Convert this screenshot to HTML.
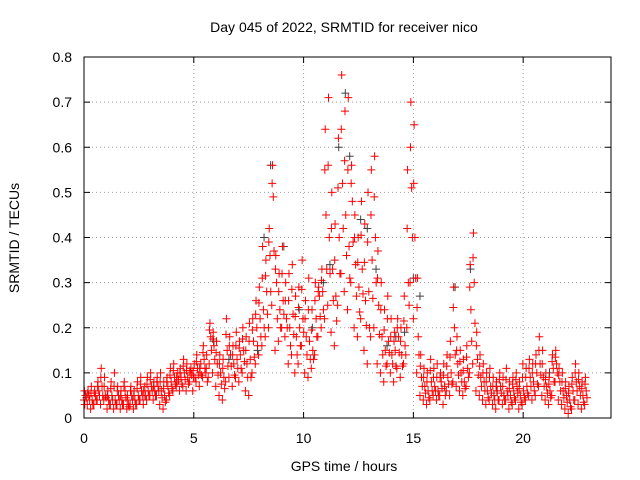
<!DOCTYPE html>
<html><head><meta charset="utf-8"><style>
body{margin:0;background:#fff}
svg{display:block;font-family:"Liberation Sans",sans-serif}
</style></head><body>
<svg id="chart" width="640" height="480" viewBox="0 0 640 480">
<rect width="640" height="480" fill="#fff"/>
<text x="344" y="32" font-size="14" text-anchor="middle">Day 045 of 2022, SRMTID for receiver nico</text>
<text transform="translate(19,238) rotate(-90)" font-size="14" text-anchor="middle">SRMTID / TECUs</text>
<text x="344" y="471" font-size="14" text-anchor="middle">GPS time / hours</text>
<g id="grid"></g><g id="ticks"></g><g id="marks"></g>
<rect x="84" y="57" width="527" height="361" fill="none" stroke="#000" stroke-width="1"/>
</svg>
<script>
const xTicks=[0,5,10,15,20];
const yTicks=[0,0.1,0.2,0.3,0.4,0.5,0.6,0.7,0.8];
const times=[0.00,0.15,0.30,0.45,0.60,0.75,0.90,1.05,1.20,1.35,1.50,1.65,1.80,1.95,2.10,2.25,2.40,2.55,2.70,2.85,3.00,3.15,3.30,3.45,3.60,3.75,3.90,4.05,4.20,4.35,4.50,4.65,4.80,4.95,5.10,5.25,5.40,5.55,5.70,5.85,6.00,6.15,6.30,6.45,6.60,6.75,6.90,7.05,7.20,7.35,7.50,7.65,7.80,7.95,8.10,8.25,8.40,8.55,8.70,8.85,9.00,9.15,9.30,9.45,9.60,9.75,9.90,10.05,10.20,10.35,10.50,10.65,10.80,10.95,11.10,11.25,11.40,11.55,11.70,11.85,12.00,12.15,12.30,12.45,12.60,12.75,12.90,13.05,13.20,13.35,13.50,13.65,13.80,13.95,14.10,14.25,14.40,14.55,14.70,14.85,15.00,15.15,15.30,15.45,15.60,15.75,15.90,16.05,16.20,16.35,16.50,16.65,16.80,16.95,17.10,17.25,17.40,17.55,17.70,17.85,18.00,18.15,18.30,18.45,18.60,18.75,18.90,19.05,19.20,19.35,19.50,19.65,19.80,19.95,20.10,20.25,20.40,20.55,20.70,20.85,21.00,21.15,21.30,21.45,21.60,21.75,21.90,22.05,22.20,22.35,22.50,22.65,22.80];
const valuesLow=[.04,.03,.02,.03,.04,.03,.04,.02,.03,.02,.03,.02,.03,.02,.03,.02,.03,.04,.03,.04,.05,.04,.05,.03,.02,.04,.05,.06,.07,.06,.07,.06,.08,.06,.08,.07,.09,.10,.12,.10,.07,.05,.04,.08,.09,.07,.09,.08,.10,.06,.05,.10,.12,.14,.16,.18,.20,.25,.15,.17,.20,.18,.12,.14,.10,.12,.16,.10,.09,.11,.14,.18,.20,.22,.25,.19,.16,.25,.32,.28,.24,.30,.20,.18,.22,.15,.12,.18,.20,.12,.10,.08,.12,.10,.08,.11,.09,.12,.20,.30,.22,.10,.05,.04,.03,.04,.05,.04,.05,.03,.06,.05,.08,.07,.06,.05,.07,.10,.12,.06,.05,.04,.03,.04,.03,.02,.04,.03,.04,.02,.03,.04,.02,.03,.04,.05,.04,.05,.07,.05,.04,.03,.05,.08,.04,.03,.02,.01,.02,.04,.03,.02,.03];
const valuesMid=[.05,.05,.04,.05,.06,.07,.05,.04,.05,.04,.05,.04,.06,.03,.05,.04,.05,.06,.07,.06,.07,.06,.07,.06,.05,.07,.08,.09,.10,.09,.10,.09,.11,.12,.11,.12,.13,.08,.18,.16,.12,.10,.09,.15,.14,.12,.13,.14,.15,.12,.13,.17,.20,.22,.24,.28,.36,.49,.30,.24,.26,.22,.20,.23,.18,.20,.22,.18,.17,.15,.22,.27,.28,.45,.40,.33,.27,.40,.52,.45,.38,.48,.34,.29,.33,.26,.28,.35,.40,.25,.18,.15,.17,.14,.15,.18,.14,.16,.30,.51,.40,.18,.09,.07,.06,.08,.07,.06,.08,.07,.09,.10,.20,.12,.10,.08,.11,.24,.30,.13,.09,.08,.06,.07,.05,.06,.07,.05,.06,.05,.06,.07,.05,.06,.07,.09,.08,.10,.12,.09,.07,.06,.11,.12,.08,.06,.05,.04,.06,.08,.07,.05,.06];
const valuesHigh=[.03,.06,.07,.06,.08,.11,.09,.06,.08,.10,.07,.06,.08,.05,.07,.06,.08,.09,.05,.09,.10,.08,.09,.10,.08,.09,.11,.12,.08,.11,.13,.12,.10,.09,.14,.10,.16,.14,.21,.19,.17,.14,.13,.22,.18,.16,.19,.17,.20,.18,.21,.22,.26,.29,.38,.35,.42,.56,.36,.32,.38,.30,.32,.34,.27,.29,.35,.26,.31,.24,.30,.29,.33,.64,.71,.50,.43,.62,.76,.68,.71,.56,.45,.40,.48,.43,.50,.55,.58,.37,.30,.24,.27,.22,.19,.22,.20,.27,.55,.70,.65,.31,.14,.11,.10,.13,.11,.12,.10,.12,.14,.17,.29,.18,.15,.13,.16,.34,.41,.19,.14,.12,.10,.11,.09,.08,.10,.09,.11,.08,.09,.10,.08,.12,.11,.13,.12,.14,.18,.15,.10,.09,.14,.15,.11,.10,.08,.07,.09,.12,.10,.08,.09];
const valuesA=[.045,.04,.03,.04,.05,.05,.045,.03,.04,.03,.04,.03,.045,.025,.04,.03,.04,.05,.05,.05,.06,.05,.06,.045,.035,.055,.065,.075,.085,.075,.085,.075,.095,.09,.095,.095,.11,.09,.15,.13,.095,.075,.065,.115,.115,.095,.11,.11,.125,.09,.09,.135,.16,.18,.20,.23,.28,.37,.22,.20,.23,.20,.16,.185,.14,.16,.19,.14,.13,.13,.18,.225,.24,.33,.32,.26,.215,.32,.42,.36,.31,.39,.27,.235,.275,.205,.20,.265,.30,.185,.14,.115,.145,.12,.115,.145,.115,.14,.25,.40,.31,.14,.07,.055,.045,.06,.06,.05,.065,.05,.075,.075,.14,.095,.08,.065,.09,.17,.21,.095,.07,.06,.045,.055,.04,.04,.055,.04,.05,.035,.045,.055,.035,.045,.055,.07,.06,.075,.095,.07,.055,.045,.08,.10,.06,.045,.035,.025,.04,.06,.05,.035,.045];
const valuesB=[.06,.055,.055,.055,.07,.09,.07,.05,.065,.07,.06,.05,.07,.04,.06,.05,.065,.075,.06,.075,.085,.07,.08,.08,.065,.08,.095,.105,.09,.10,.115,.105,.105,.105,.125,.11,.145,.11,.195,.175,.145,.12,.11,.185,.16,.14,.16,.155,.175,.15,.17,.195,.23,.255,.31,.315,.39,.52,.33,.28,.32,.26,.26,.285,.225,.245,.285,.22,.24,.195,.26,.28,.305,.55,.56,.42,.35,.51,.64,.57,.55,.52,.40,.345,.405,.345,.39,.45,.49,.31,.24,.195,.22,.18,.17,.20,.17,.215,.42,.60,.52,.245,.115,.09,.08,.105,.09,.09,.09,.095,.115,.135,.245,.15,.125,.105,.135,.29,.355,.16,.115,.10,.08,.09,.07,.07,.085,.07,.085,.065,.075,.085,.065,.09,.09,.11,.10,.12,.15,.12,.085,.075,.125,.135,.095,.08,.065,.055,.075,.10,.085,.065,.075];
const greyTimes=[8.5,9.1,10.9,11.6,12.1,12.6,13.3,14.2,15.0,15.3,16.9,17.6,21.2,8.2,11.9,9.8,10.4,11.2,12.9,13.8,14.6,7.9,6.6,5.9,18.8];
const greyValues=[0.56,0.38,0.30,0.60,0.58,0.44,0.33,0.18,0.31,0.27,0.29,0.33,0.10,0.40,0.72,0.24,0.20,0.34,0.42,0.16,0.19,0.15,0.13,0.17,0.06];
const X=v=>84+v*(527/24), Y=v=>418-v*(361/0.8);
const NS="http://www.w3.org/2000/svg";
const grid=document.getElementById('grid'),ticks=document.getElementById('ticks'),marks=document.getElementById('marks');
function mk(tag,attrs,parent){const e=document.createElementNS(NS,tag);for(const k in attrs)e.setAttribute(k,attrs[k]);parent.appendChild(e);return e;}
xTicks.forEach(t=>{const x=X(t);
 if(t>0){const g=mk('line',{x1:x,x2:x,y1:57,y2:418,stroke:'#a0a0a0','stroke-dasharray':'1,3'},grid);
 
 }
 mk('line',{x1:x,x2:x,y1:418,y2:412,stroke:'#000'},ticks);mk('line',{x1:x,x2:x,y1:57,y2:63,stroke:'#000'},ticks);
 const l=mk('text',{x:x,y:443,'font-size':14,'text-anchor':'middle'},ticks);l.textContent=t;
 
 });
yTicks.forEach(t=>{const y=Y(t);
 if(t>0&&t<0.8){const g=mk('line',{x1:84,x2:611,y1:y,y2:y,stroke:'#a0a0a0','stroke-dasharray':'1,3'},grid);
 
 }
 mk('line',{x1:84,x2:90,y1:y,y2:y,stroke:'#000'},ticks);mk('line',{x1:611,x2:605,y1:y,y2:y,stroke:'#000'},ticks);
 const l=mk('text',{x:72,y:y+5,'font-size':14,'text-anchor':'end'},ticks);l.textContent=t===0?'0':t.toFixed(1);
 
 });
function plus(t,v,col,name){const x=X(t),y=Y(v);
 const p=mk('path',{d:`M${x-4} ${y}h8M${x} ${y-4}v8`,stroke:col,'stroke-width':1,fill:'none'},marks);
 
 }
greyTimes.forEach((t,i)=>plus(t,greyValues[i],'#404040','grey-point'));
times.forEach((t,i)=>{
 plus(t,valuesLow[i],'#ff0000','srmtid-point');
 plus(t+0.07,valuesMid[i],'#ff0000','srmtid-point');
 plus(t+0.035,valuesHigh[i],'#ff0000','srmtid-point');
 plus(t+0.105,valuesA[i],'#ff0000','srmtid-point');
 plus(t+0.0175,valuesB[i],'#ff0000','srmtid-point');});
</script>
</body></html>
